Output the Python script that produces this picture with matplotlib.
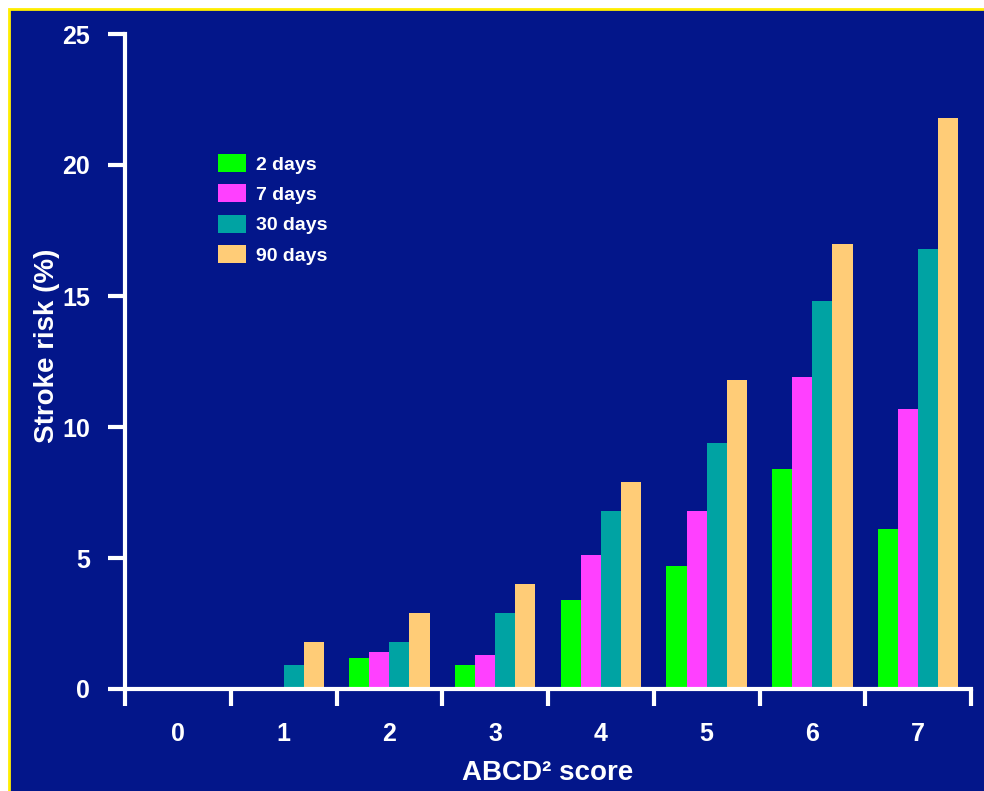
import numpy as np
import matplotlib
matplotlib.use('Agg')
import matplotlib.pyplot as plt
from matplotlib.patches import Rectangle

scores = ['0', '1', '2', '3', '4', '5', '6', '7']
days_2 = [0, 0, 1.2, 0.9, 3.4, 4.7, 8.4, 6.1]
days_7 = [0, 0, 1.4, 1.3, 5.1, 6.8, 11.9, 10.7]
days_30 = [0, 0.9, 1.8, 2.9, 6.8, 9.4, 14.8, 16.8]
days_90 = [0, 1.8, 2.9, 4.0, 7.9, 11.8, 17.0, 21.8]
series_names = ['2 days', '7 days', '30 days', '90 days']
colors = ['#00ff00', '#ff40ff', '#00a3a3', '#ffcc77']
y_ticks = [0, 5, 10, 15, 20, 25]

bg = '#03168a'
W, H = 984, 791

plt.rcParams['font.family'] = ['Liberation Sans', 'DejaVu Sans']
plt.rcParams['font.weight'] = 'bold'

fig = plt.figure(figsize=(W / 100, H / 100), dpi=100, facecolor='white')
fig.patches.append(Rectangle((9 / W, -0.01), 1.01, 1 - 9 / H + 0.01, transform=fig.transFigure,
                             facecolor=bg, edgecolor='#ffee00', linewidth=2, zorder=-10))

ax = fig.add_axes([125 / W, 1 - 689 / H, (971 - 125) / W, (689 - 34) / H])
ax.set_facecolor('none')

x = np.arange(len(scores))
w = 0.19
for i, (vals, name) in enumerate(zip([days_2, days_7, days_30, days_90], series_names)):
    ax.bar(x + (i - 1.5) * w, vals, width=w, color=colors[i], label=name, zorder=2)

ax.set_xlim(-0.5, 7.5)
ax.set_ylim(0, 25)
ax.set_yticks(y_ticks)
ax.set_xticks(np.arange(-0.5, 8, 1))
ax.set_xticklabels([])
ax.set_xticks(x, minor=True)
ax.set_xticklabels(scores, minor=True)

for s in ['top', 'right']:
    ax.spines[s].set_visible(False)
for s in ['left', 'bottom']:
    ax.spines[s].set_color('white')
    ax.spines[s].set_linewidth(3)
    ax.spines[s].set_zorder(3)

ax.tick_params(axis='both', which='major', colors='white', width=3, length=12, direction='out')
ax.tick_params(axis='y', labelsize=18, pad=13)
ax.tick_params(axis='x', which='minor', length=0, labelsize=18, pad=24, colors='white')

ax.set_ylabel('Stroke risk (%)', color='white', fontsize=20, fontweight='bold')
ax.yaxis.set_label_coords(-0.077, 0.524)
ax.set_xlabel('ABCD² score', color='white', fontsize=20, fontweight='bold')
ax.xaxis.set_label_coords(0.5, -0.108)

leg = ax.legend(loc='upper left', bbox_to_anchor=(218 / W, 1 - 154 / H), bbox_transform=fig.transFigure,
                frameon=False, fontsize=14, handlelength=1.45, handleheight=1.05, handletextpad=0.5,
                labelspacing=0.55, borderpad=0, borderaxespad=0)
for t in leg.get_texts():
    t.set_color('white')
    t.set_fontweight('bold')

fig.savefig('out.png', dpi=100, facecolor=fig.get_facecolor())
